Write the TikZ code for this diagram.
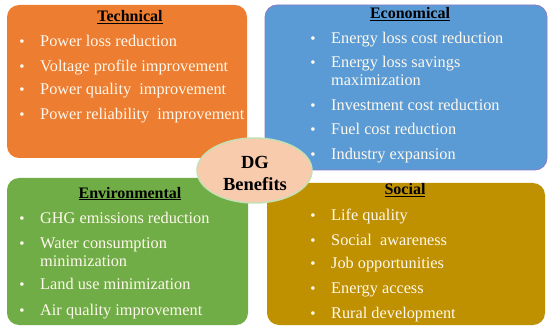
\documentclass[tikz,border=0pt]{standalone}
\usepackage{fontspec}
\setmainfont{Liberation Serif}
\usetikzlibrary{shapes.geometric}
\definecolor{techc}{HTML}{ED7D31}
\definecolor{econc}{HTML}{5B9BD5}
\definecolor{econb}{HTML}{8A7CC8}
\definecolor{envc}{HTML}{70AD47}
\definecolor{socc}{HTML}{BF9000}
\definecolor{dgfill}{HTML}{F8CBAD}
\definecolor{dgline}{HTML}{C5E0B4}
\definecolor{itemc}{HTML}{FFF8EC}
\begin{document}
\begin{tikzpicture}[x=1pt,y=-1pt,
  panel/.style={rounded corners=12pt,inner sep=0pt,minimum width=#1},
  ttl/.style={anchor=base,inner sep=0pt,font=\fontsize{16}{18}\selectfont\bfseries,text=black},
  itm/.style={anchor=base west,inner sep=0pt,font=\fontsize{16.3}{18}\selectfont,text=itemc},
  bul/.style={anchor=base,inner sep=0pt,font=\fontsize{15}{18}\selectfont,text=itemc}]
\useasboundingbox (0,0) rectangle (550,329);
\fill[white] (0,0) rectangle (550,329);
% panels
\node[panel=240pt,minimum height=153pt,fill=techc] (tech) at (127,81.5) {};
\node[panel=282pt,minimum height=165pt,fill=econc,draw=econb,line width=0.8pt] (econ) at (406,87.5) {};
\node[panel=241pt,minimum height=147pt,fill=envc] (env) at (127.5,251.5) {};
\node[panel=278pt,minimum height=142pt,fill=socc] (soc) at (406,254) {};
% Technical
\node[ttl] (techT) at (130,22) {\underline{Technical}};
\node[bul] (tb1) at (22,47) {•};
\node[itm] (t1) at (40,47) {Power loss reduction};
\node[bul] (tb2) at (22,72) {•};
\node[itm] (t2) at (40,72) {Voltage profile improvement};
\node[bul] (tb3) at (22,95) {•};
\node[itm] (t3) at (40,95) {Power quality\ \ improvement};
\node[bul] (tb4) at (22,120) {•};
\node[itm] (t4) at (40,120) {Power reliability\ \ improvement};
% Economical
\node[ttl] (econT) at (410,19) {\underline{Economical}};
\node[bul] (eb1) at (313,44) {•};
\node[itm] (e1) at (331,44) {Energy loss cost reduction};
\node[bul] (eb2) at (313,68) {•};
\node[itm] (e2) at (331,68) {Energy loss savings};
\node[itm] (e2b) at (331,86) {maximization};
\node[bul] (eb3) at (313,111) {•};
\node[itm] (e3) at (331,111) {Investment cost reduction};
\node[bul] (eb4) at (313,135) {•};
\node[itm] (e4) at (331,135) {Fuel cost reduction};
\node[bul] (eb5) at (313,160) {•};
\node[itm] (e5) at (331,160) {Industry expansion};
% Environmental
\node[ttl] (envT) at (130,198) {\underline{Environmental}};
\node[bul] (vb1) at (22,223) {•};
\node[itm] (v1) at (40,223) {GHG emissions reduction};
\node[bul] (vb2) at (22,248) {•};
\node[itm] (v2) at (40,248) {Water consumption};
\node[itm] (v2b) at (40,266) {minimization};
\node[bul] (vb3) at (22,290) {•};
\node[itm] (v3) at (40,290) {Land use minimization};
\node[bul] (vb4) at (22,315) {•};
\node[itm] (v4) at (40,315) {Air quality improvement};
% Social
\node[ttl] (socT) at (405,195) {\underline{Social}};
\node[bul] (sb1) at (313,221) {•};
\node[itm] (s1) at (331,221) {Life quality};
\node[bul] (sb2) at (313,245) {•};
\node[itm] (s2) at (331,245) {Social\ \ awareness};
\node[bul] (sb3) at (313,269) {•};
\node[itm] (s3) at (331,269) {Job opportunities};
\node[bul] (sb4) at (313,293) {•};
\node[itm] (s4) at (331,293) {Energy access};
\node[bul] (sb5) at (313,318) {•};
\node[itm] (s5) at (331,318) {Rural development};
% centre
\node[ellipse,fill=dgfill,draw=dgline,line width=1.5pt,minimum width=115pt,minimum height=65pt,inner sep=0pt] (dg) at (254.5,170.5) {};
\node[ttl,font=\fontsize{18.5}{20}\selectfont\bfseries] (dg1) at (255,168) {DG};
\node[ttl,font=\fontsize{18.5}{20}\selectfont\bfseries] (dg2) at (255,191) {Benefits};
\end{tikzpicture}
\end{document}
